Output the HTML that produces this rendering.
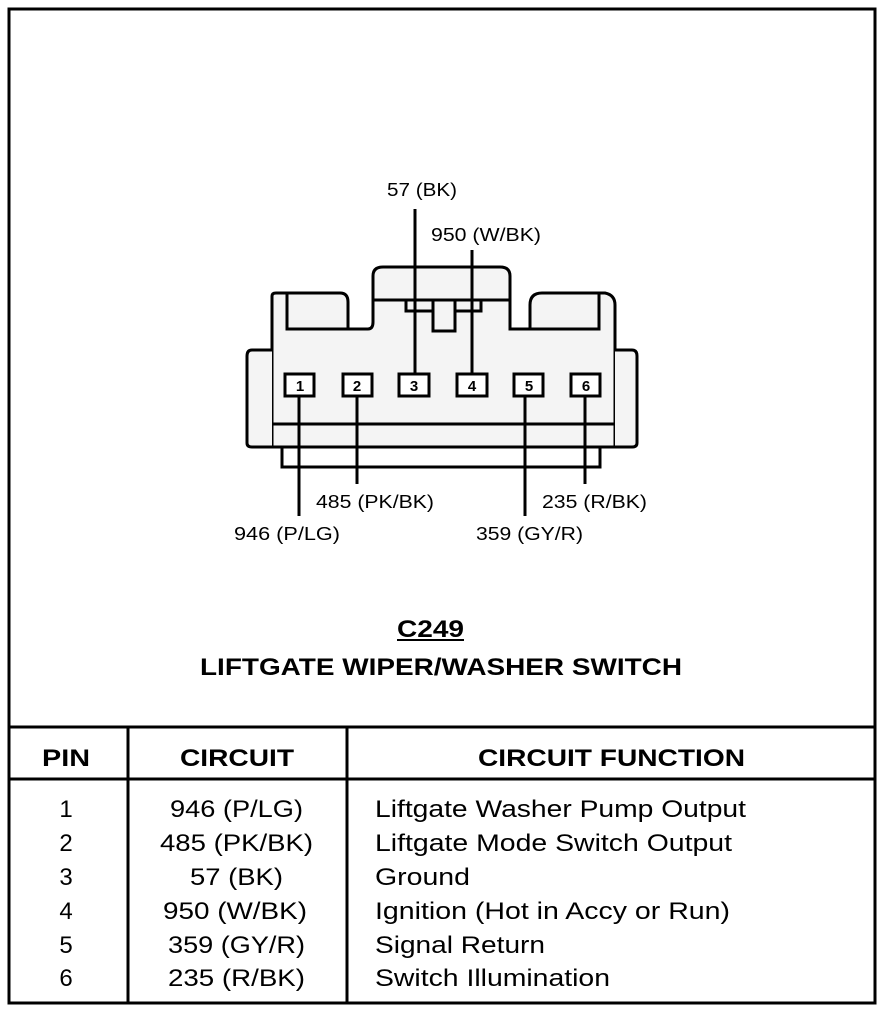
<!DOCTYPE html>
<html><head><style>
html,body{margin:0;padding:0;background:#fff;}
svg{display:block;}
text{font-family:"Liberation Sans",Arial,sans-serif;fill:#000;}
</style></head><body>
<svg width="896" height="1012" viewBox="0 0 896 1012">
<g fill="none" stroke="#000" stroke-width="3">
<rect x="9" y="9" width="866" height="994"/>
<line x1="9" y1="727" x2="875" y2="727"/>
<line x1="9" y1="779" x2="875" y2="779"/>
<line x1="128" y1="727" x2="128" y2="1003"/>
<line x1="347" y1="727" x2="347" y2="1003"/>
<path d="M272 447 L272 296 Q272 293 276 293 L340 293 Q348 293 348 302 L348 329 L368 329 Q373 329 373 322 L373 276 Q373 267 383 267 L500 267 Q510 267 510 276 L510 329 L530 329 L530 305 Q530 293 542 293 L605 293 Q615 295 615 305 L615 447 Z" fill="#f4f4f4"/>
<path d="M287 294 L287 329 L348 329"/>
<path d="M530 329 L599 329 L599 294"/>
<line x1="373" y1="300" x2="510" y2="300"/>
<path d="M406 300 L406 311 L433 311 M455 311 L481 311 L481 300"/>
<rect x="433" y="300" width="22" height="31"/>
<path d="M272 350 L252 350 Q247 350 247 356 L247 443 Q247 447 252 447 L272 447" fill="#f4f4f4"/>
<path d="M615 350 L632 350 Q637 350 637 356 L637 443 Q637 447 632 447 L615 447" fill="#f4f4f4"/>
<line x1="272" y1="424" x2="615" y2="424"/>
<path d="M282 447 L282 467 L600 467 L600 447"/>
<rect x="285" y="374" width="29" height="22" fill="#fff"/>
<rect x="343" y="374" width="29" height="22" fill="#fff"/>
<rect x="399" y="374" width="30" height="22" fill="#fff"/>
<rect x="457" y="374" width="30" height="22" fill="#fff"/>
<rect x="514" y="374" width="29" height="22" fill="#fff"/>
<rect x="571" y="374" width="29" height="22" fill="#fff"/>
<line x1="415" y1="209" x2="415" y2="374"/>
<line x1="472" y1="250" x2="472" y2="374"/>
<line x1="299" y1="396" x2="299" y2="516"/>
<line x1="357" y1="396" x2="357" y2="484"/>
<line x1="525" y1="396" x2="525" y2="516"/>
<line x1="585" y1="396" x2="585" y2="484"/>
<line x1="397" y1="640" x2="464" y2="640" stroke-width="2"/>
</g>
<g font-size="15" font-weight="bold" text-anchor="middle">
<text x="300" y="391">1</text><text x="357" y="391">2</text><text x="414" y="391">3</text>
<text x="472" y="391">4</text><text x="529" y="391">5</text><text x="586" y="391">6</text>
</g>
<g font-size="18" lengthAdjust="spacingAndGlyphs">
<text x="387" y="196" textLength="70" lengthAdjust="spacingAndGlyphs">57 (BK)</text>
<text x="431" y="241" textLength="110" lengthAdjust="spacingAndGlyphs">950 (W/BK)</text>
<text x="316" y="508" textLength="118" lengthAdjust="spacingAndGlyphs">485 (PK/BK)</text>
<text x="234" y="540" textLength="106" lengthAdjust="spacingAndGlyphs">946 (P/LG)</text>
<text x="542" y="508" textLength="105" lengthAdjust="spacingAndGlyphs">235 (R/BK)</text>
<text x="476" y="540" textLength="107" lengthAdjust="spacingAndGlyphs">359 (GY/R)</text>
</g>
<g font-size="24" font-weight="bold">
<text x="397" y="637" textLength="67" lengthAdjust="spacingAndGlyphs">C249</text>
<text x="200" y="675" textLength="482" lengthAdjust="spacingAndGlyphs">LIFTGATE WIPER/WASHER SWITCH</text>
<text x="42" y="766" textLength="48" lengthAdjust="spacingAndGlyphs">PIN</text>
<text x="180" y="766" textLength="114" lengthAdjust="spacingAndGlyphs">CIRCUIT</text>
<text x="478" y="766" textLength="267" lengthAdjust="spacingAndGlyphs">CIRCUIT FUNCTION</text>
</g>
<g font-size="24" text-anchor="middle">
<text x="66" y="817">1</text><text x="66" y="851">2</text><text x="66" y="885">3</text>
<text x="66" y="919">4</text><text x="66" y="953">5</text><text x="66" y="986">6</text>
</g>
<g font-size="24">
<text x="170" y="817" textLength="133" lengthAdjust="spacingAndGlyphs">946 (P/LG)</text>
<text x="160" y="851" textLength="153" lengthAdjust="spacingAndGlyphs">485 (PK/BK)</text>
<text x="190" y="885" textLength="93" lengthAdjust="spacingAndGlyphs">57 (BK)</text>
<text x="163" y="919" textLength="144" lengthAdjust="spacingAndGlyphs">950 (W/BK)</text>
<text x="168" y="953" textLength="137" lengthAdjust="spacingAndGlyphs">359 (GY/R)</text>
<text x="168" y="986" textLength="137" lengthAdjust="spacingAndGlyphs">235 (R/BK)</text>
<text x="375" y="817" textLength="371" lengthAdjust="spacingAndGlyphs">Liftgate Washer Pump Output</text>
<text x="375" y="851" textLength="357" lengthAdjust="spacingAndGlyphs">Liftgate Mode Switch Output</text>
<text x="375" y="885" textLength="95" lengthAdjust="spacingAndGlyphs">Ground</text>
<text x="375" y="919" textLength="355" lengthAdjust="spacingAndGlyphs">Ignition (Hot in Accy or Run)</text>
<text x="375" y="953" textLength="170" lengthAdjust="spacingAndGlyphs">Signal Return</text>
<text x="375" y="986" textLength="235" lengthAdjust="spacingAndGlyphs">Switch Illumination</text>
</g>
</svg>
</body></html>
